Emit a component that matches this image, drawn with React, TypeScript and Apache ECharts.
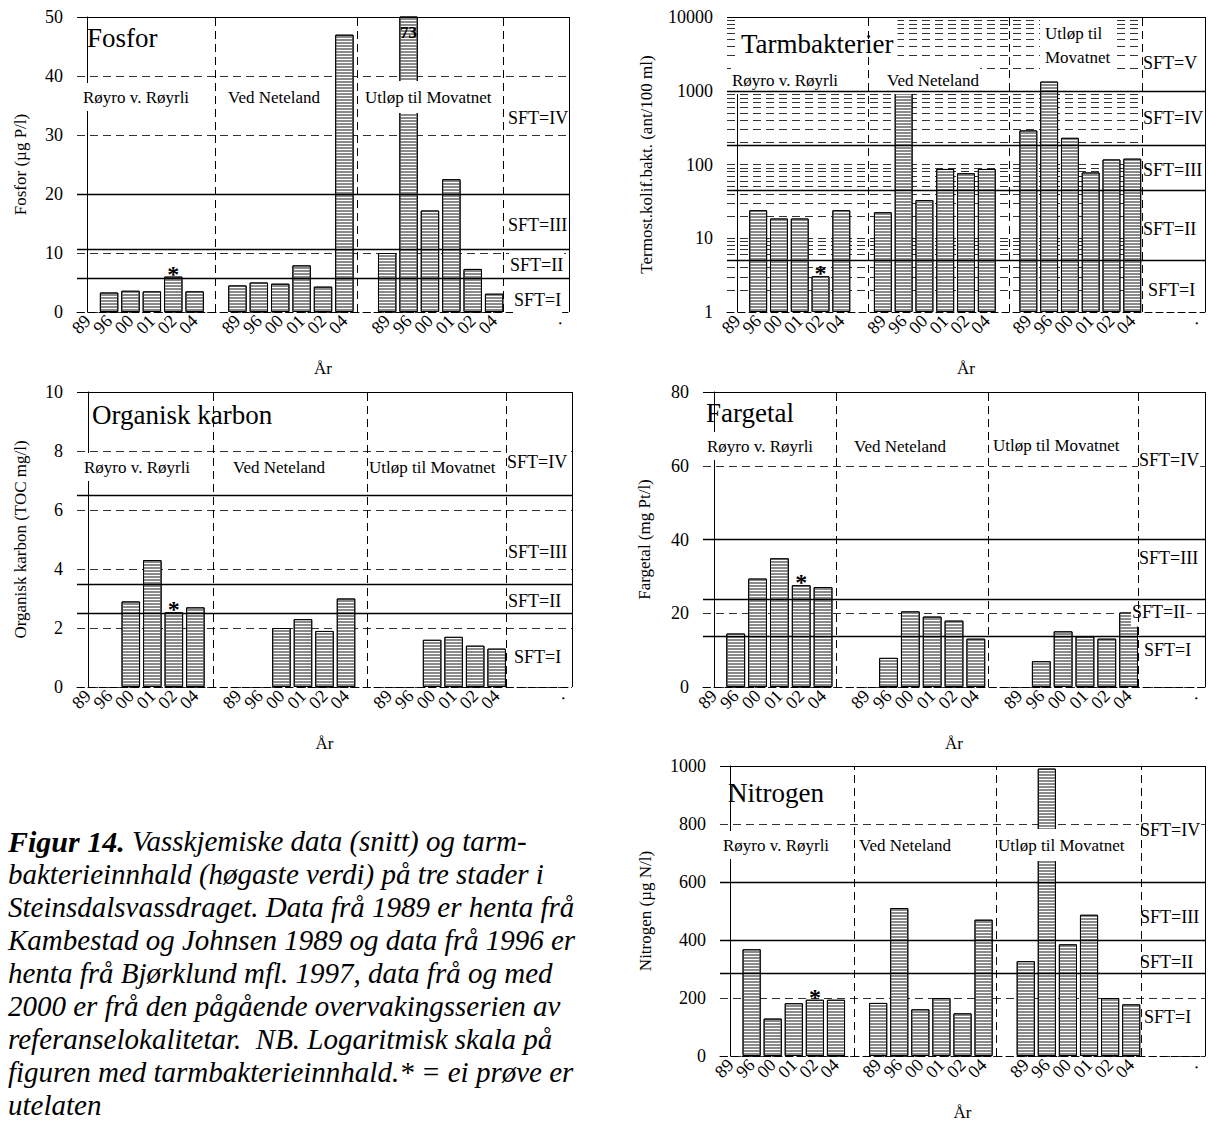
import React, { useEffect, useRef } from 'react';
import * as echarts from 'echarts';

const FONT = '"Liberation Serif", "Times New Roman", Times, serif';

// ---------- categories ----------
const years = ['89', '96', '00', '01', '02', '04'];
const categories = [...years, '', ...years, '', ...years, '', '', '.'];

// ---------- data (years 89, 96, 00, 01, 02, 04) ----------
const fosforRoyrli = [null, 3.3, 3.6, 3.5, 6.0, 3.5];
const fosforNeteland = [4.5, 5.0, 4.8, 7.9, 4.3, 47.0];
const fosforMovatnet = [10.0, 73, 17.2, 22.5, 7.3, 3.1];
const fosforSFT = [5.8, 10.6, 20];

const tarmRoyrli = [null, 24, 18.5, 18.5, 3.05, 24];
const tarmNeteland = [22.5, 940, 33, 87, 76, 87];
const tarmMovatnet = [290, 1330, 230, 78, 117, 120];
const tarmSFT = [5.1, 45, 185, 1000];
const tarmGridValues = [2, 3, 4, 5, 6, 7, 8, 9, 10, 20, 30, 40, 50, 60, 70, 80, 90, 100, 200, 300, 400, 500, 600, 700, 800, 900, 2000, 3000, 4000, 5000, 6000, 7000, 8000, 9000];

const tocRoyrli = [null, null, 2.9, 4.3, 2.53, 2.7];
const tocNeteland = [null, null, 2.0, 2.3, 1.9, 3.0];
const tocMovatnet = [null, null, 1.6, 1.7, 1.4, 1.3];
const tocSFT = [2.5, 3.5, 6.5];

const fargeRoyrli = [null, 14.5, 29.4, 34.9, 27.6, 27.1];
const fargeNeteland = [null, 7.9, 20.5, 19.1, 18.0, 13.1];
const fargeMovatnet = [null, 7.0, 15.1, 13.7, 13.1, 20.2];
const fargeSFT = [13.7, 23.8, 40];

const nitroRoyrli = [null, 368, 129, 182, 194, 194];
const nitroNeteland = [183, 510, 161, 200, 147, 470];
const nitroMovatnet = [327, 991, 385, 487, 200, 178];
const nitroSFT = [285, 400, 600];

const stations = ['Røyro v. Røyrli', 'Ved Neteland', 'Utløp til Movatnet'];

const captionLines = [
  '{b|Figur 14.} Vasskjemiske data (snitt) og tarm-',
  'bakterieinnhald (høgaste verdi) på tre stader i',
  'Steinsdalsvassdraget. Data frå 1989 er henta frå',
  'Kambestad og Johnsen 1989 og data frå 1996 er',
  'henta frå Bjørklund mfl. 1997, data frå og med',
  '2000 er frå den pågående overvakingsserien av',
  'referanselokalitetar.  NB. Logaritmisk skala på',
  'figuren med tarmbakterieinnhald.* = ei prøve er',
  'utelaten',
];

const join = (a: any[], b: any[], c: any[]) => [...a, null, ...b, null, ...c, null, null, null];

type Txt = { text: string; x: number; y: number; size: number; bg?: boolean; pad?: number[] };

const sftTexts = (labels: string[], pos: [number, number][]): Txt[] =>
  labels.map((l, i) => ({ text: l, x: pos[i][0], y: pos[i][1], size: 18, bg: true }));

const panels = [
  {
    yName: 'Fosfor (µg P/l)',
    grid: { left: 77, top: 17, width: 492, height: 295 },
    yAxis: { type: 'value', min: 0, max: 50, interval: 10 },
    values: join(fosforRoyrli, fosforNeteland, fosforMovatnet),
    sft: fosforSFT,
    dividers: [5.97, 12.59, 19.43],
    nameGap: 48,
    valueLabelIndex: 15,
    texts: [
      { text: 'Fosfor', x: 87, y: 38, size: 27 },
      { text: stations[0], x: 82, y: 97, size: 17, bg: true },
      { text: stations[1], x: 227, y: 97, size: 17, bg: true },
      { text: stations[2], x: 363, y: 97, size: 17, bg: true, pad: [4, 2] },
      ...sftTexts(['SFT=IV', 'SFT=III', 'SFT=II', 'SFT=I'], [[507, 118], [507, 225], [509, 265], [513, 300]]),
    ] as Txt[],
  },
  {
    yName: 'Termost.kolif.bakt. (ant/100 ml)',
    grid: { left: 727, top: 17, width: 478, height: 295 },
    yAxis: { type: 'log', logBase: 10, min: 1, max: 10000 },
    values: join(tarmRoyrli, tarmNeteland, tarmMovatnet),
    sft: tarmSFT,
    dividers: [6.3, 13.1, 19.5],
    nameGap: 72,
    valueLabelIndex: -1,
    texts: [
      { text: 'Tarmbakterier', x: 737, y: 44, size: 27, bg: true, pad: [9, 4] },
      { text: stations[0], x: 731, y: 80, size: 17, bg: true },
      { text: stations[1], x: 886, y: 80, size: 17, bg: true },
      { text: 'Utløp til\nMovatnet', x: 1040, y: 45, size: 17, bg: true, pad: [3, 5] },
      ...sftTexts(['SFT=V', 'SFT=IV', 'SFT=III', 'SFT=II', 'SFT=I'], [[1142, 63], [1142, 118], [1142, 170], [1142, 229], [1147, 290]]),
    ] as Txt[],
  },
  {
    yName: 'Organisk karbon (TOC mg/l)',
    grid: { left: 77, top: 392, width: 495, height: 295 },
    yAxis: { type: 'value', min: 0, max: 10, interval: 2 },
    values: join(tocRoyrli, tocNeteland, tocMovatnet),
    sft: tocSFT,
    dividers: [5.82, 12.99, 19.44],
    nameGap: 48,
    valueLabelIndex: -1,
    texts: [
      { text: 'Organisk karbon', x: 92, y: 415, size: 27 },
      { text: stations[0], x: 83, y: 467, size: 17, bg: true },
      { text: stations[1], x: 232, y: 467, size: 17, bg: true },
      { text: stations[2], x: 368, y: 467, size: 17, bg: true },
      ...sftTexts(['SFT=IV', 'SFT=III', 'SFT=II', 'SFT=I'], [[506, 462], [507, 552], [507, 601], [513, 657]]),
    ] as Txt[],
  },
  {
    yName: 'Fargetal (mg Pt/l)',
    grid: { left: 703, top: 392, width: 502, height: 295 },
    yAxis: { type: 'value', min: 0, max: 80, interval: 20 },
    values: join(fargeRoyrli, fargeNeteland, fargeMovatnet),
    sft: fargeSFT,
    dividers: [5.61, 12.59, 19.46],
    nameGap: 50,
    valueLabelIndex: -1,
    texts: [
      { text: 'Fargetal', x: 706, y: 413, size: 27 },
      { text: stations[0], x: 706, y: 446, size: 17, bg: true },
      { text: stations[1], x: 853, y: 446, size: 17, bg: true },
      { text: stations[2], x: 992, y: 445, size: 17, bg: true },
      ...sftTexts(['SFT=IV', 'SFT=III', 'SFT=II', 'SFT=I'], [[1138, 460], [1138, 558], [1131, 612], [1143, 650]]),
    ] as Txt[],
  },
  {
    yName: 'Nitrogen (µg N/l)',
    grid: { left: 720, top: 766, width: 485, height: 295 },
    yAxis: { type: 'value', min: 0, max: 1000, interval: 200 },
    values: join(nitroRoyrli, nitroNeteland, nitroMovatnet),
    sft: nitroSFT,
    dividers: [5.86, 12.6, 19.5],
    nameGap: 66,
    valueLabelIndex: -1,
    texts: [
      { text: 'Nitrogen', x: 728, y: 793, size: 27 },
      { text: stations[0], x: 722, y: 845, size: 17, bg: true },
      { text: stations[1], x: 858, y: 845, size: 17, bg: true },
      { text: stations[2], x: 996, y: 845, size: 17, bg: true, pad: [4, 2] },
      ...sftTexts(['SFT=IV', 'SFT=III', 'SFT=II', 'SFT=I'], [[1139, 830], [1139, 917], [1139, 962], [1143, 1017]]),
    ] as Txt[],
  },
];

const ASTERISK_INDEX = 4;

function buildOption() {
  const grid: any[] = [];
  const xAxis: any[] = [];
  const yAxis: any[] = [];
  const series: any[] = [];
  const graphic: any[] = [];

  panels.forEach((p, i) => {
    grid.push({ ...p.grid, show: false, containLabel: false });
    xAxis.push({
      type: 'category',
      gridIndex: i,
      data: categories,
      boundaryGap: true,
      axisTick: { show: false },
      axisLine: { show: true, lineStyle: { color: '#000', width: 1, type: [7, 4] } },
      axisLabel: { interval: 0, rotate: 45, fontFamily: FONT, fontSize: 18, color: '#000', margin: 6 },
      splitLine: { show: false },
      name: 'År',
      nameLocation: 'middle',
      nameGap: 48,
      nameTextStyle: { fontFamily: FONT, fontSize: 17, color: '#000' },
    });
    xAxis.push({ type: 'value', gridIndex: i, min: -0.5, max: 22.5, show: false });
    const isLog = p.yAxis.type === 'log';
    yAxis.push({
      ...p.yAxis,
      gridIndex: i,
      name: p.yName,
      nameLocation: 'middle',
      nameGap: p.nameGap,
      nameTextStyle: { fontFamily: FONT, fontSize: 17, color: '#000' },
      axisLine: { show: true, lineStyle: { color: '#000', width: 1 } },
      axisTick: { show: false },
      axisLabel: {
        fontFamily: FONT,
        fontSize: 18,
        color: '#000',
        margin: 14,
        formatter: (v: number) => String(Math.round(v)),
      },
      splitLine: { show: !isLog, lineStyle: { type: [8, 5], color: '#333', width: 1 } },
    });

    series.push({
      type: 'bar',
      xAxisIndex: 2 * i,
      yAxisIndex: i,
      z: 2,
      silent: true,
      barCategoryGap: '14%',
      data: p.values.map((v, j) => {
        if (j === ASTERISK_INDEX) {
          return {
            value: v,
            label: {
              show: true, position: 'top', distance: 0, offset: [0, 9], formatter: '*',
              fontSize: 24, fontWeight: 'bold', fontFamily: FONT, color: '#000',
            },
          };
        }
        if (j === p.valueLabelIndex) {
          return {
            value: v,
            label: {
              show: true, position: 'insideTop', distance: 7, formatter: '{c}',
              fontSize: 17, fontWeight: 'bold', fontFamily: FONT, color: '#000',
            },
          };
        }
        return v;
      }),
      itemStyle: {
        color: '#ffffff',
        borderColor: '#000',
        borderWidth: 1,
        decal: {
          symbol: 'rect', symbolSize: 1, dashArrayX: [1, 0], dashArrayY: [2, 1],
          rotation: 0, color: '#8a8a8a', backgroundColor: '#ffffff',
        },
      },
      emphasis: { disabled: true },
    });

    if (isLog) {
      series.push({
        type: 'line',
        xAxisIndex: 2 * i + 1,
        yAxisIndex: i,
        data: [],
        silent: true,
        symbol: 'none',
        markLine: {
          z: 1,
          silent: true,
          symbol: 'none',
          label: { show: false },
          emphasis: { disabled: true },
          lineStyle: { type: [8, 5], color: '#333', width: 1 },
          data: tarmGridValues.map((v) => [{ coord: [-0.5, v] }, { coord: [p.dividers[2], v] }]),
        },
      });
    }

    series.push({
      type: 'line',
      xAxisIndex: 2 * i + 1,
      yAxisIndex: i,
      data: [],
      silent: true,
      symbol: 'none',
      markLine: {
        z: 5,
        silent: true,
        symbol: 'none',
        label: { show: false },
        emphasis: { disabled: true },
        data: [
          ...p.dividers.map((d) => ({ xAxis: d, lineStyle: { type: [8, 5], color: '#000', width: 1 } })),
          ...p.sft.map((v) => ({ yAxis: v, lineStyle: { type: 'solid', color: '#000', width: 1.3 } })),
          { yAxis: p.yAxis.max, lineStyle: { type: 'solid', color: '#000', width: 1 } },
          { xAxis: 22.5, lineStyle: { type: 'solid', color: '#000', width: 1 } },
        ],
      },
    });

    p.texts.forEach((t) => {
      graphic.push({
        type: 'text',
        x: t.x,
        y: t.y,
        z: 3,
        silent: true,
        style: {
          text: t.text,
          font: `${t.size}px ${FONT}`,
          fill: '#000',
          align: 'left',
          verticalAlign: 'middle',
          textAlign: 'left',
          textVerticalAlign: 'middle',
          lineHeight: Math.round(t.size * 1.4),
          backgroundColor: t.bg ? '#ffffff' : 'transparent',
          padding: t.bg ? (t.pad || [2, 1]) : 0,
        },
      });
    });
  });

  captionLines.forEach((line, k) => {
    graphic.push({
      type: 'text',
      x: 8,
      y: 841 + k * 33,
      z: 3,
      silent: true,
      style: {
        text: line,
        fontFamily: FONT,
        fontSize: 29,
        fontStyle: 'italic',
        fill: '#000',
        align: 'left',
        verticalAlign: 'middle',
        textAlign: 'left',
        textVerticalAlign: 'middle',
        rich: {
          b: { fontFamily: FONT, fontSize: 30, fontStyle: 'italic', fontWeight: 'bold', fill: '#000' },
        },
      },
    });
  });

  return {
    animation: false,
    backgroundColor: '#ffffff',
    textStyle: { fontFamily: FONT },
    grid,
    xAxis,
    yAxis,
    series,
    graphic,
  };
}

export default function App() {
  const ref = useRef<HTMLDivElement>(null);
  useEffect(() => {
    if (!ref.current) return;
    const chart = echarts.init(ref.current, undefined, { renderer: 'svg' });
    chart.setOption(buildOption() as any);
    return () => chart.dispose();
  }, []);
  return (
    <div
      ref={ref}
      style={{ position: 'absolute', left: 0, top: 0, width: 1208, height: 1122, background: '#fff' }}
    />
  );
}
